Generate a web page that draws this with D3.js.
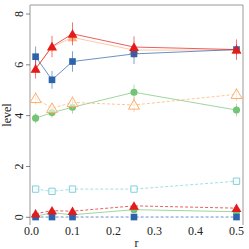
<!DOCTYPE html>
<html><head><meta charset="utf-8">
<script src="https://cdn.jsdelivr.net/npm/d3@7"></script>
<style>body{margin:0;background:#fff}svg{display:block}text{font-family:"Liberation Serif","DejaVu Serif",serif}</style>
</head><body>
<script>
const rValues = [0.01, 0.05, 0.1, 0.25, 0.5];
const xTicks = [0, 0.1, 0.2, 0.3, 0.4, 0.5];
const yTicks = [0, 2, 4, 6, 8];

const orangeTop   = [5.85, 6.70, 7.08, 6.58, 6.58];
const blueTop     = [6.32, 5.41, 6.13, 6.43, 6.60];
const blueTopErr  = [0.40, 0.35, 0.40, 0.40, 0.20];
const redTop      = [5.84, 6.72, 7.22, 6.70, 6.60];
const redTopErr   = [0.38, 0.42, 0.45, 0.42, 0.40];
const orangeOpen  = [4.68, 4.29, 4.52, 4.42, 4.84];
const orangeErr   = [0.25, 0.22, 0.25, 0.28, 0.25];
const greenMid    = [3.90, 4.12, 4.33, 4.92, 4.22];
const greenErr    = [0.20, 0.20, 0.25, 0.30, 0.25];
const cyanOpen    = [1.11, 1.02, 1.11, 1.11, 1.42];
const blueBot     = [0.01, 0.01, 0.01, 0.01, 0.01];
const redBot      = [0.14, 0.26, 0.24, 0.45, 0.36];
const greenBot    = [0.04, 0.18, 0.10, 0.30, 0.22];

const series = [
  {v: orangeTop, err: null, color: "#fdb27a", dash: null, shape: "tri", fill: true},
  {v: greenBot, err: null, color: "#74c476", dash: null, shape: "circle", fill: true},
  {v: blueBot, err: null, color: "#2b63ad", dash: "3,2", shape: "square", fill: true},
  {v: redBot, err: null, color: "#e41a1c", dash: "3,2", shape: "tri", fill: true},
  {v: cyanOpen, err: null, color: "#7fd0dc", dash: "3,2", shape: "square", fill: false},
  {v: greenMid, err: greenErr, color: "#74c476", dash: null, shape: "circle", fill: true},
  {v: orangeOpen, err: orangeErr, color: "#fdae6b", dash: "3,2", shape: "tri", fill: false},
  {v: blueTop, err: blueTopErr, color: "#2b63ad", dash: null, shape: "square", fill: true},
  {v: redTop, err: redTopErr, color: "#e41a1c", dash: null, shape: "tri", fill: true}
];

const W = 249, H = 249;
const svg = d3.select("body").append("svg").attr("width", W).attr("height", H);
const frame = {l: 30, t: 5, r: 243, b: 225};
const x = d3.scaleLinear().domain([0, 0.5]).range([31.5, 236.5]);
const y = d3.scaleLinear().domain([0, 8]).range([217.3, 14]);

// frame (left, top, right)
svg.append("path")
  .attr("d", `M${frame.l},${frame.b}V${frame.t}H${frame.r}V${frame.b}`)
  .attr("fill", "none").attr("stroke", "#999").attr("stroke-width", 1);

// y ticks
const yg = svg.append("g");
yTicks.forEach(t => {
  yg.append("line").attr("x1", frame.l - 4).attr("x2", frame.l).attr("y1", y(t)).attr("y2", y(t))
    .attr("stroke", "#666").attr("stroke-width", 0.8);
  yg.append("text").attr("transform", `translate(${frame.l - 7},${y(t)}) rotate(-90)`)
    .attr("text-anchor", "middle").attr("font-size", 12).attr("fill", "#222").text(d3.format("d")(t));
});
svg.append("text").attr("transform", `translate(11,${(frame.t + frame.b) / 2}) rotate(-90)`)
  .attr("text-anchor", "middle").attr("font-size", 12).attr("fill", "#222").text("level");

// x ticks
xTicks.forEach(t => {
  svg.append("text").attr("x", x(t)).attr("y", 235).attr("text-anchor", "middle")
    .attr("font-size", 12).attr("fill", "#222").text(d3.format(".1f")(t));
});
svg.append("text").attr("x", (frame.l + frame.r) / 2).attr("y", 247).attr("text-anchor", "middle")
  .attr("font-size", 12).attr("fill", "#222").text("r");

const line = d3.line().x((d, i) => x(rValues[i])).y(d => y(d));
const sym = {
  tri: d3.symbol().type(d3.symbolTriangle).size(42),
  square: d3.symbol().type(d3.symbolSquare).size(44),
  circle: d3.symbol().type(d3.symbolCircle).size(40)
};

series.forEach(s => {
  const g = svg.append("g");
  g.append("path").attr("d", line(s.v)).attr("fill", "none").attr("stroke", s.color)
    .attr("stroke-width", 1).attr("stroke-opacity", 0.7).attr("stroke-dasharray", s.dash);
  if (s.err) {
    s.v.forEach((d, i) => {
      g.append("line").attr("x1", x(rValues[i])).attr("x2", x(rValues[i]))
        .attr("y1", y(d - s.err[i])).attr("y2", y(d + s.err[i]))
        .attr("stroke", s.color).attr("stroke-width", 1).attr("stroke-opacity", 0.6);
    });
  }
  s.v.forEach((d, i) => {
    g.append("path").attr("d", s.fill ? sym[s.shape]() : d3.symbol().type(s.shape === "tri" ? d3.symbolTriangle : d3.symbolSquare).size(s.shape === "tri" ? 52 : 40)())
      .attr("transform", `translate(${x(rValues[i])},${y(d) + (s.shape === "tri" ? 1 : 0)})`)
      .attr("fill", s.fill ? s.color : "#fff").attr("fill-opacity", s.fill ? 1 : 0.6)
      .attr("stroke", s.color).attr("stroke-width", s.fill ? 0 : 1);
  });
});
</script>
</body></html>
